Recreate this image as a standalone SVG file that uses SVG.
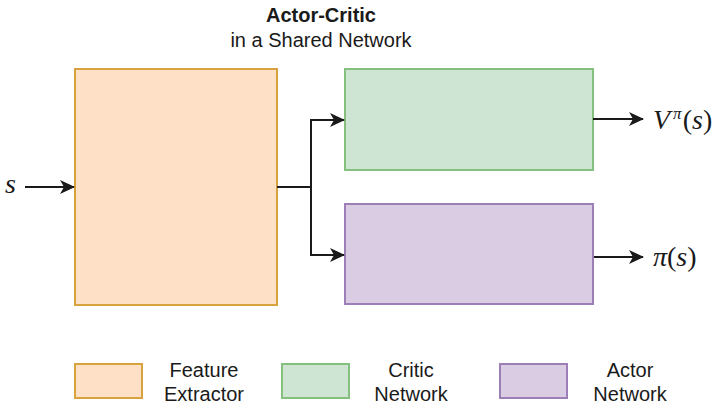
<svg xmlns="http://www.w3.org/2000/svg" width="715" height="406" viewBox="0 0 715 406">
  <defs>
    <marker id="arrow" viewBox="0 0 15 14" refX="14" refY="7" markerWidth="15" markerHeight="14" markerUnits="userSpaceOnUse" orient="auto">
      <path d="M0,0 L15,7 L0,14 L4,7 Z" fill="#1a1a1a"/>
    </marker>
    <style>
      .sans { font-family: "Liberation Sans", Arial, sans-serif; font-size: 20px; fill: #1a1a1a; }
      .bold { font-weight: bold; }
      .math { font-family: "Liberation Serif", "Times New Roman", serif; font-style: italic; font-size: 28px; fill: #1a1a1a; }
      .up { font-style: normal; }
      .fe { fill: #fde0c6; stroke: #d8a23e; stroke-width: 2; }
      .cr { fill: #cde5d2; stroke: #86c07f; stroke-width: 2; }
      .ac { fill: #dacde3; stroke: #9b7fb6; stroke-width: 2; }
      .wire { fill: none; stroke: #1a1a1a; stroke-width: 2; }
    </style>
  </defs>

  <!-- heading -->
  <g id="title" text-anchor="middle">
    <text class="sans bold" x="321" y="22">Actor-Critic</text>
    <text class="sans" x="321" y="47">in a Shared Network</text>
  </g>

  <!-- blocks -->
  <g id="feature-extractor">
    <rect class="fe" x="75" y="69" width="202" height="236"/>
  </g>
  <g id="critic-network">
    <rect class="cr" x="345" y="69" width="248" height="101"/>
  </g>
  <g id="actor-network">
    <rect class="ac" x="345" y="204" width="248" height="100"/>
  </g>

  <!-- input / output labels -->
  <g id="input-s">
    <text class="math" x="5" y="193">s</text>
  </g>
  <g id="output-v">
    <text class="math" x="653" y="129">V<tspan font-size="17" dy="-10" dx="3">π</tspan><tspan class="up" dy="10" dx="1">(</tspan>s<tspan class="up">)</tspan></text>
  </g>
  <g id="output-pi">
    <text class="math" x="653" y="266">π<tspan class="up">(</tspan>s<tspan class="up">)</tspan></text>
  </g>

  <!-- connectors -->
  <g id="connectors">
    <path class="wire" d="M25,187 H74" marker-end="url(#arrow)"/>
    <path class="wire" d="M277,187 H311 V120 H344" marker-end="url(#arrow)"/>
    <path class="wire" d="M311,187 V255 H344" marker-end="url(#arrow)"/>
    <path class="wire" d="M593,119 H643" marker-end="url(#arrow)"/>
    <path class="wire" d="M594,257 H643" marker-end="url(#arrow)"/>
  </g>

  <!-- legend -->
  <g id="legend-feature">
    <rect class="fe" x="75" y="364" width="67" height="34"/>
    <text class="sans" x="204" y="377" text-anchor="middle">Feature</text>
    <text class="sans" x="204" y="401" text-anchor="middle">Extractor</text>
  </g>
  <g id="legend-critic">
    <rect class="cr" x="282" y="364" width="67" height="34"/>
    <text class="sans" x="411" y="377" text-anchor="middle">Critic</text>
    <text class="sans" x="411" y="401" text-anchor="middle">Network</text>
  </g>
  <g id="legend-actor">
    <rect class="ac" x="500" y="364" width="67" height="34"/>
    <text class="sans" x="630" y="377" text-anchor="middle">Actor</text>
    <text class="sans" x="630" y="401" text-anchor="middle">Network</text>
  </g>
</svg>
